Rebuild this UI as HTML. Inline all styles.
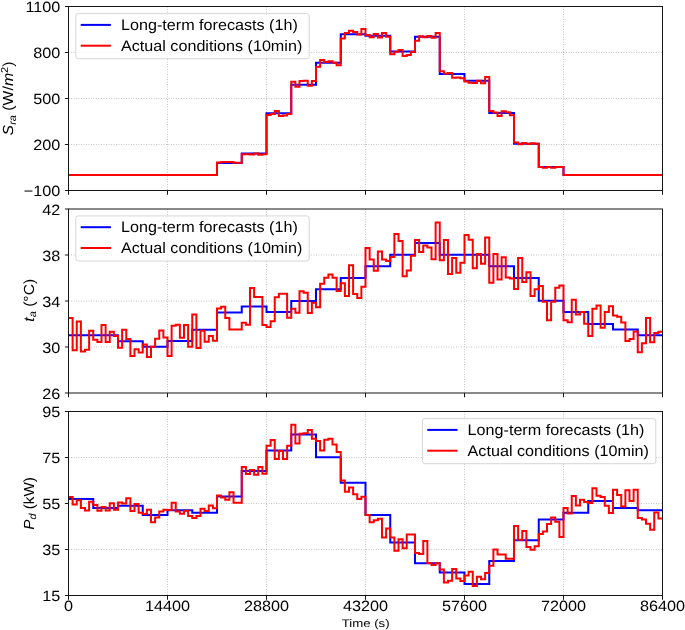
<!DOCTYPE html>
<html><head><meta charset="utf-8"><title>chart</title><style>*{margin:0;padding:0}html,body{width:685px;height:630px;overflow:hidden;background:#fff}
svg{display:block}
text{font-family:"Liberation Sans",sans-serif;fill:#000;text-rendering:geometricPrecision}
.tx{position:absolute;left:0;top:0;will-change:transform}
.tk{font-size:14.9px}.lg{font-size:15.2px}.xl{font-size:11.1px}.yl{font-size:14.6px}
</style></head><body>
<svg width="685" height="630" viewBox="0 0 685 630">
<rect width="685" height="630" fill="#fff"/>
<defs>
<clipPath id="c0"><rect x="68.5" y="6.5" width="594.0" height="184.0"/></clipPath>
<clipPath id="c1"><rect x="68.5" y="209.0" width="594.0" height="184.0"/></clipPath>
<clipPath id="c2"><rect x="68.5" y="411.5" width="594.0" height="184.0"/></clipPath>
</defs>
<path d="M167.5 6.5V190.5M266.5 6.5V190.5M365.5 6.5V190.5M464.5 6.5V190.5M563.5 6.5V190.5M68.5 52.5H662.5M68.5 98.5H662.5M68.5 144.5H662.5" stroke="#b0b0b0" stroke-width="0.8" stroke-dasharray="0.9 1.6" fill="none"/>
<g clip-path="url(#c0)" fill="none" stroke-width="2.0" stroke-linejoin="miter" stroke-linecap="butt">
<path d="M68.5 174.9L93.25 174.9L118 174.9L142.75 174.9L167.5 174.9L192.25 174.9L217 174.9L217 163.1L241.75 163.1L241.75 153.4L266.5 153.4L266.5 113.2L291.25 113.2L291.25 84.7L316 84.7L316 62.8L340.75 62.8L340.75 34.2L365.5 34.2L365.5 35.7L390.25 35.7L390.25 51.5L415 51.5L415 36.8L439.75 36.8L439.75 74L464.5 74L464.5 80.8L489.25 80.8L489.25 112.9L514 112.9L514 143.7L538.75 143.7L538.75 167L563.5 167L563.5 174.9L588.25 174.9L613 174.9L637.75 174.9L662.5 174.9" stroke="#0000ff"/>
<path d="M68.5 174.9L72.62 174.9L76.75 174.9L80.88 174.9L85 174.9L89.12 174.9L93.25 174.9L97.38 174.9L101.5 174.9L105.62 174.9L109.75 174.9L113.88 174.9L118 174.9L122.12 174.9L126.25 174.9L130.38 174.9L134.5 174.9L138.62 174.9L142.75 174.9L146.88 174.9L151 174.9L155.12 174.9L159.25 174.9L163.38 174.9L167.5 174.9L171.62 174.9L175.75 174.9L179.88 174.9L184 174.9L188.12 174.9L192.25 174.9L196.38 174.9L200.5 174.9L204.62 174.9L208.75 174.9L212.88 174.9L217 174.9L217 162.6L221.12 162.6L221.12 161.9L225.25 161.9L229.38 161.9L233.5 161.9L233.5 162.8L237.62 162.8L241.75 162.8L241.75 154.2L245.88 154.2L250 154.2L250 154.4L254.12 154.4L254.12 153.4L258.25 153.4L258.25 154.8L262.38 154.8L262.38 154.2L266.5 154.2L266.5 115L270.62 115L270.62 114.1L274.75 114.1L274.75 110.9L278.88 110.9L278.88 116.1L283 116.1L283 115.6L287.12 115.6L287.12 113.9L291.25 113.9L291.25 81.8L295.38 81.8L295.38 86.8L299.5 86.8L299.5 80.9L303.62 80.9L303.62 80.7L307.75 80.7L307.75 85.7L311.88 85.7L311.88 80.9L316 80.9L316 66.7L320.12 66.7L320.12 59.9L324.25 59.9L324.25 62.1L328.38 62.1L328.38 61.2L332.5 61.2L332.5 62.7L336.62 62.7L336.62 65.3L340.75 65.3L340.75 38.5L344.88 38.5L344.88 32.9L349 32.9L349 30.7L353.12 30.7L353.12 32L357.25 32L357.25 34.4L361.38 34.4L361.38 28.9L365.5 28.9L365.5 35.1L369.62 35.1L369.62 37.3L373.75 37.3L373.75 33.9L377.88 33.9L377.88 37.6L382 37.6L382 33.1L386.12 33.1L386.12 36.8L390.25 36.8L390.25 54.2L394.38 54.2L394.38 51.7L398.5 51.7L398.5 50.1L402.62 50.1L402.62 56L406.75 56L406.75 55L410.88 55L410.88 51.9L415 51.9L415 40.7L419.12 40.7L419.12 36.2L423.25 36.2L423.25 37.2L427.38 37.2L427.38 35.9L431.5 35.9L431.5 37.7L435.62 37.7L435.62 33L439.75 33L439.75 71.3L443.88 71.3L443.88 73.5L448 73.5L448 73L452.12 73L452.12 77.8L456.25 77.8L456.25 77.6L460.38 77.6L460.38 78.3L464.5 78.3L464.5 81.4L468.62 81.4L468.62 82.7L472.75 82.7L472.75 82.9L476.88 82.9L476.88 80.8L481 80.8L481 83.3L485.12 83.3L485.12 77.1L489.25 77.1L489.25 111L493.38 111L493.38 112.6L497.5 112.6L497.5 116L501.62 116L501.62 111.2L505.75 111.2L505.75 112.2L509.88 112.2L509.88 115.2L514 115.2L514 142.4L518.12 142.4L518.12 144.2L522.25 144.2L522.25 142.9L526.38 142.9L526.38 144L530.5 144L530.5 143.2L534.62 143.2L534.62 143.7L538.75 143.7L538.75 166.9L542.88 166.9L542.88 167.7L547 167.7L547 166.9L551.12 166.9L551.12 167.7L555.25 167.7L555.25 166.9L559.38 166.9L563.5 166.9L563.5 174.9L567.62 174.9L571.75 174.9L575.88 174.9L580 174.9L584.12 174.9L588.25 174.9L592.38 174.9L596.5 174.9L600.62 174.9L604.75 174.9L608.88 174.9L613 174.9L617.12 174.9L621.25 174.9L625.38 174.9L629.5 174.9L633.62 174.9L637.75 174.9L641.88 174.9L646 174.9L650.12 174.9L654.25 174.9L658.38 174.9L662.5 174.9" stroke="#ff0000"/>
</g>
<rect x="68.5" y="6.5" width="594.0" height="184.0" fill="none" stroke="#151515" stroke-width="1"/>
<path d="M64.9 6.5H68.5M64.9 52.5H68.5M64.9 98.5H68.5M64.9 144.5H68.5M64.9 190.5H68.5M68.5 190.5V194.8M167.5 190.5V194.8M266.5 190.5V194.8M365.5 190.5V194.8M464.5 190.5V194.8M563.5 190.5V194.8M662.5 190.5V194.8" stroke="#151515" stroke-width="1" fill="none"/>
<path d="M167.5 209V393M266.5 209V393M365.5 209V393M464.5 209V393M563.5 209V393M68.5 255H662.5M68.5 301H662.5M68.5 347H662.5" stroke="#b0b0b0" stroke-width="0.8" stroke-dasharray="0.9 1.6" fill="none"/>
<g clip-path="url(#c1)" fill="none" stroke-width="2.0" stroke-linejoin="miter" stroke-linecap="butt">
<path d="M68.5 335.3L93.25 335.3L118 335.3L118 341.2L142.75 341.2L142.75 346.7L167.5 346.7L167.5 341L192.25 341L192.25 329.7L217 329.7L217 312.4L241.75 312.4L241.75 306.5L266.5 306.5L266.5 312L291.25 312L291.25 300.9L316 300.9L316 289.3L340.75 289.3L340.75 278L365.5 278L365.5 266.3L390.25 266.3L390.25 254.8L415 254.8L415 243L439.75 243L439.75 254.7L464.5 254.7L489.25 254.7L489.25 266.2L514 266.2L514 278L538.75 278L538.75 300.7L563.5 300.7L563.5 312.1L588.25 312.1L588.25 323.9L613 323.9L613 329.6L637.75 329.6L637.75 335.2L662.5 335.2" stroke="#0000ff"/>
<path d="M68.5 317.9L72.62 317.9L72.62 350.2L76.75 350.2L76.75 321.4L80.88 321.4L80.88 351.5L85 351.5L85 349.7L89.12 349.7L89.12 330.7L93.25 330.7L93.25 339.8L97.38 339.8L97.38 342.1L101.5 342.1L101.5 325L105.62 325L105.62 342.1L109.75 342.1L109.75 331.8L113.88 331.8L113.88 336.1L118 336.1L118 347.7L122.12 347.7L122.12 329.7L126.25 329.7L126.25 338.9L130.38 338.9L130.38 355.9L134.5 355.9L134.5 349.2L138.62 349.2L138.62 352.4L142.75 352.4L142.75 344.6L146.88 344.6L146.88 357.1L151 357.1L151 346.7L155.12 346.7L155.12 338.7L159.25 338.7L159.25 330.5L163.38 330.5L163.38 337.6L167.5 337.6L167.5 355.9L171.62 355.9L171.62 325.8L175.75 325.8L175.75 324.8L179.88 324.8L179.88 337.7L184 337.7L184 325L188.12 325L188.12 346.7L192.25 346.7L192.25 314.5L196.38 314.5L196.38 347.9L200.5 347.9L200.5 330.7L204.62 330.7L204.62 341.7L208.75 341.7L208.75 336L212.88 336L212.88 340.7L217 340.7L217 308.6L221.12 308.6L221.12 306.7L225.25 306.7L225.25 318.1L229.38 318.1L229.38 329.5L233.5 329.5L237.62 329.5L241.75 329.5L241.75 322.7L245.88 322.7L245.88 324.8L250 324.8L250 288.1L254.12 288.1L254.12 297.1L258.25 297.1L262.38 297.1L262.38 325L266.5 325L266.5 326.9L270.62 326.9L270.62 321.3L274.75 321.3L274.75 297.2L278.88 297.2L278.88 293.7L283 293.7L287.12 293.7L287.12 317.8L291.25 317.8L291.25 308.7L295.38 308.7L295.38 312.8L299.5 312.8L299.5 291.3L303.62 291.3L303.62 292.8L307.75 292.8L307.75 313.1L311.88 313.1L311.88 302.7L316 302.7L316 307.2L320.12 307.2L320.12 283.7L324.25 283.7L324.25 277.8L328.38 277.8L328.38 274.4L332.5 274.4L332.5 277.8L336.62 277.8L336.62 291.1L340.75 291.1L340.75 283.3L344.88 283.3L344.88 296.1L349 296.1L349 265.2L353.12 265.2L353.12 293.9L357.25 293.9L357.25 298.1L361.38 298.1L361.38 286.7L365.5 286.7L365.5 248L369.62 248L369.62 259.4L373.75 259.4L373.75 270.8L377.88 270.8L377.88 251.4L382 251.4L382 259.4L386.12 259.4L386.12 261.1L390.25 261.1L390.25 257L394.38 257L394.38 233.9L398.5 233.9L398.5 240.9L402.62 240.9L402.62 276.3L406.75 276.3L406.75 270.6L410.88 270.6L410.88 255.7L415 255.7L415 240L419.12 240L419.12 252L423.25 252L423.25 245.6L427.38 245.6L427.38 247.6L431.5 247.6L431.5 259.2L435.62 259.2L435.62 222.6L439.75 222.6L439.75 260.3L443.88 260.3L443.88 240L448 240L448 273.9L452.12 273.9L452.12 258.1L456.25 258.1L456.25 272.8L460.38 272.8L460.38 262.8L464.5 262.8L464.5 235L468.62 235L468.62 239.7L472.75 239.7L472.75 268.3L476.88 268.3L476.88 253.9L481 253.9L481 263.7L485.12 263.7L485.12 237.6L489.25 237.6L489.25 282.8L493.38 282.8L493.38 253.9L497.5 253.9L497.5 279.4L501.62 279.4L501.62 257.2L505.75 257.2L505.75 277.6L509.88 277.6L509.88 278.6L514 278.6L514 288.9L518.12 288.9L518.12 258.1L522.25 258.1L522.25 282L526.38 282L526.38 272.2L530.5 272.2L530.5 296.1L534.62 296.1L534.62 289.2L538.75 289.2L538.75 285.9L542.88 285.9L542.88 301.7L547 301.7L547 320.3L551.12 320.3L551.12 301.7L555.25 301.7L555.25 287.8L559.38 287.8L559.38 285.6L563.5 285.6L563.5 320.3L567.62 320.3L567.62 322.2L571.75 322.2L571.75 299.8L575.88 299.8L575.88 314.4L580 314.4L580 312L584.12 312L584.12 323.7L588.25 323.7L588.25 336.1L592.38 336.1L592.38 308.7L596.5 308.7L596.5 305.6L600.62 305.6L600.62 327.8L604.75 327.8L604.75 312L608.88 312L608.88 306.3L613 306.3L613 315.6L617.12 315.6L617.12 316.7L621.25 316.7L621.25 322.6L625.38 322.6L625.38 340.9L629.5 340.9L629.5 338.9L633.62 338.9L633.62 331.4L637.75 331.4L637.75 352.2L641.88 352.2L641.88 343.3L646 343.3L646 318.1L650.12 318.1L650.12 342.2L654.25 342.2L654.25 333L658.38 333L658.38 331.7L662.5 331.7" stroke="#ff0000"/>
</g>
<rect x="68.5" y="209.0" width="594.0" height="184.0" fill="none" stroke="#151515" stroke-width="1"/>
<path d="M64.9 209H68.5M64.9 255H68.5M64.9 301H68.5M64.9 347H68.5M64.9 393H68.5M68.5 393V397.3M167.5 393V397.3M266.5 393V397.3M365.5 393V397.3M464.5 393V397.3M563.5 393V397.3M662.5 393V397.3" stroke="#151515" stroke-width="1" fill="none"/>
<path d="M167.5 411.5V595.5M266.5 411.5V595.5M365.5 411.5V595.5M464.5 411.5V595.5M563.5 411.5V595.5M68.5 457.5H662.5M68.5 503.5H662.5M68.5 549.5H662.5" stroke="#b0b0b0" stroke-width="0.8" stroke-dasharray="0.9 1.6" fill="none"/>
<g clip-path="url(#c2)" fill="none" stroke-width="2.0" stroke-linejoin="miter" stroke-linecap="butt">
<path d="M68.5 499L93.25 499L93.25 508L118 508L118 505.8L142.75 505.8L142.75 515L167.5 515L167.5 510.3L192.25 510.3L192.25 512.7L217 512.7L217 496.6L241.75 496.6L241.75 471.1L266.5 471.1L266.5 450.5L291.25 450.5L291.25 434.4L316 434.4L316 457.3L340.75 457.3L340.75 482.7L365.5 482.7L365.5 515L390.25 515L390.25 542.6L415 542.6L415 563.2L439.75 563.2L439.75 572.4L464.5 572.4L464.5 584L489.25 584L489.25 560.9L514 560.9L514 540.2L538.75 540.2L538.75 519.6L563.5 519.6L563.5 512.7L588.25 512.7L588.25 501L613 501L613 508L637.75 508L637.75 510.2L662.5 510.2" stroke="#0000ff"/>
<path d="M68.5 497L72.62 497L72.62 504.4L76.75 504.4L76.75 500.3L80.88 500.3L80.88 508L85 508L85 510.4L89.12 510.4L89.12 501.7L93.25 501.7L93.25 504.9L97.38 504.9L97.38 510.7L101.5 510.7L101.5 507L105.62 507L105.62 510.4L109.75 510.4L109.75 503.3L113.88 503.3L113.88 509.8L118 509.8L118 502.6L122.12 502.6L122.12 503.6L126.25 503.6L126.25 498.3L130.38 498.3L130.38 511L134.5 511L134.5 504L138.62 504L138.62 512.8L142.75 512.8L142.75 514L146.88 514L146.88 509.7L151 509.7L151 522.2L155.12 522.2L155.12 517.5L159.25 517.5L159.25 511.6L163.38 511.6L163.38 509.7L167.5 509.7L167.5 510.1L171.62 510.1L171.62 502.7L175.75 502.7L175.75 511.5L179.88 511.5L179.88 513.7L184 513.7L184 510.7L188.12 510.7L188.12 516L192.25 516L192.25 518L196.38 518L196.38 516L200.5 516L200.5 508.8L204.62 508.8L204.62 510.9L208.75 510.9L208.75 505.5L212.88 505.5L212.88 508.2L217 508.2L217 495.5L221.12 495.5L221.12 497.4L225.25 497.4L225.25 499.8L229.38 499.8L229.38 492.2L233.5 492.2L233.5 502.8L237.62 502.8L241.75 502.8L241.75 466.9L245.88 466.9L245.88 474L250 474L250 470L254.12 470L254.12 474.8L258.25 474.8L258.25 467.1L262.38 467.1L262.38 473.7L266.5 473.7L266.5 445.7L270.62 445.7L270.62 440L274.75 440L274.75 459L278.88 459L278.88 451L283 451L283 458.9L287.12 458.9L287.12 445.7L291.25 445.7L291.25 424.8L295.38 424.8L295.38 443.6L299.5 443.6L299.5 433.8L303.62 433.8L303.62 433.3L307.75 433.3L307.75 430L311.88 430L311.88 438.8L316 438.8L316 440.9L320.12 440.9L320.12 450.6L324.25 450.6L324.25 439.8L328.38 439.8L328.38 438.7L332.5 438.7L332.5 444.4L336.62 444.4L336.62 452L340.75 452L340.75 480.6L344.88 480.6L344.88 491.7L349 491.7L349 487.6L353.12 487.6L353.12 494.2L357.25 494.2L357.25 498.9L361.38 498.9L361.38 496.7L365.5 496.7L365.5 515L369.62 515L369.62 522.2L373.75 522.2L373.75 520.2L377.88 520.2L377.88 518.7L382 518.7L382 537.6L386.12 537.6L386.12 528.5L390.25 528.5L390.25 537.4L394.38 537.4L394.38 550.7L398.5 550.7L398.5 539.3L402.62 539.3L402.62 548.3L406.75 548.3L406.75 534.5L410.88 534.5L415 534.5L415 552.9L419.12 552.9L419.12 553.9L423.25 553.9L423.25 540.9L427.38 540.9L427.38 562.9L431.5 562.9L431.5 565L435.62 565L435.62 563.3L439.75 563.3L439.75 569.5L443.88 569.5L443.88 582.4L448 582.4L448 580.8L452.12 580.8L452.12 568.9L456.25 568.9L456.25 578.5L460.38 578.5L460.38 581L464.5 581L464.5 575.4L468.62 575.4L468.62 571.8L472.75 571.8L472.75 585.9L476.88 585.9L476.88 576.7L481 576.7L481 579.2L485.12 579.2L485.12 572.9L489.25 572.9L489.25 565.7L493.38 565.7L493.38 549.4L497.5 549.4L497.5 554.6L501.62 554.6L505.75 554.6L505.75 558.7L509.88 558.7L514 558.7L514 526L518.12 526L518.12 539.7L522.25 539.7L522.25 530.9L526.38 530.9L526.38 546.9L530.5 546.9L530.5 549.7L534.62 549.7L534.62 546.3L538.75 546.3L538.75 534L542.88 534L542.88 531.5L547 531.5L547 523.9L551.12 523.9L551.12 517.4L555.25 517.4L555.25 521.7L559.38 521.7L559.38 536.9L563.5 536.9L563.5 507.9L567.62 507.9L567.62 513.4L571.75 513.4L571.75 496L575.88 496L575.88 505.5L580 505.5L580 499.8L584.12 499.8L584.12 501.9L588.25 501.9L588.25 503.1L592.38 503.1L592.38 488.3L596.5 488.3L596.5 495.8L600.62 495.8L600.62 497.1L604.75 497.1L604.75 505.7L608.88 505.7L608.88 512.9L613 512.9L613 489.8L617.12 489.8L617.12 495L621.25 495L621.25 506.6L625.38 506.6L625.38 490.2L629.5 490.2L629.5 500.9L633.62 500.9L633.62 489.8L637.75 489.8L637.75 518.1L641.88 518.1L641.88 519.5L646 519.5L646 523.8L650.12 523.8L650.12 529.7L654.25 529.7L654.25 512.4L658.38 512.4L658.38 518.6L662.5 518.6" stroke="#ff0000"/>
</g>
<rect x="68.5" y="411.5" width="594.0" height="184.0" fill="none" stroke="#151515" stroke-width="1"/>
<path d="M64.9 411.5H68.5M64.9 457.5H68.5M64.9 503.5H68.5M64.9 549.5H68.5M64.9 595.5H68.5M68.5 595.5V599.8M167.5 595.5V599.8M266.5 595.5V599.8M365.5 595.5V599.8M464.5 595.5V599.8M563.5 595.5V599.8M662.5 595.5V599.8" stroke="#151515" stroke-width="1" fill="none"/>
<rect x="75.8" y="13.6" width="233.4" height="45.1" rx="2.5" fill="#fff" fill-opacity="0.8" stroke="#cccccc" stroke-opacity="0.8" stroke-width="1"/>
<path d="M80.7 24.9H110.9" stroke="#0000ff" stroke-width="2.0"/>
<path d="M80.7 45.7H110.9" stroke="#ff0000" stroke-width="2.0"/>
<rect x="75.8" y="215.9" width="233.4" height="45.1" rx="2.5" fill="#fff" fill-opacity="0.8" stroke="#cccccc" stroke-opacity="0.8" stroke-width="1"/>
<path d="M80.7 227.2H110.9" stroke="#0000ff" stroke-width="2.0"/>
<path d="M80.7 248H110.9" stroke="#ff0000" stroke-width="2.0"/>
<rect x="422.4" y="418.6" width="233.4" height="45.1" rx="2.5" fill="#fff" fill-opacity="0.8" stroke="#cccccc" stroke-opacity="0.8" stroke-width="1"/>
<path d="M427.3 429.9H457.5" stroke="#0000ff" stroke-width="2.0"/>
<path d="M427.3 450.7H457.5" stroke="#ff0000" stroke-width="2.0"/>
</svg>
<svg class="tx" width="685" height="630" viewBox="0 0 685 630">
<text transform="translate(60.4 12.2) scale(1.089 1)" text-anchor="end" class="tk">1100</text>
<text transform="translate(60.4 58.2) scale(1.089 1)" text-anchor="end" class="tk">800</text>
<text transform="translate(60.4 104.2) scale(1.089 1)" text-anchor="end" class="tk">500</text>
<text transform="translate(60.4 150.2) scale(1.089 1)" text-anchor="end" class="tk">200</text>
<text transform="translate(60.4 196.2) scale(1.089 1)" text-anchor="end" class="tk">−100</text>
<text transform="translate(60.4 214.7) scale(1.089 1)" text-anchor="end" class="tk">42</text>
<text transform="translate(60.4 260.7) scale(1.089 1)" text-anchor="end" class="tk">38</text>
<text transform="translate(60.4 306.7) scale(1.089 1)" text-anchor="end" class="tk">34</text>
<text transform="translate(60.4 352.7) scale(1.089 1)" text-anchor="end" class="tk">30</text>
<text transform="translate(60.4 398.7) scale(1.089 1)" text-anchor="end" class="tk">26</text>
<text transform="translate(60.4 417.2) scale(1.089 1)" text-anchor="end" class="tk">95</text>
<text transform="translate(60.4 463.2) scale(1.089 1)" text-anchor="end" class="tk">75</text>
<text transform="translate(60.4 509.2) scale(1.089 1)" text-anchor="end" class="tk">55</text>
<text transform="translate(60.4 555.2) scale(1.089 1)" text-anchor="end" class="tk">35</text>
<text transform="translate(60.4 601.2) scale(1.089 1)" text-anchor="end" class="tk">15</text>
<text transform="translate(68.5 610.9) scale(1.089 1)" text-anchor="middle" class="tk">0</text>
<text transform="translate(167.5 610.9) scale(1.089 1)" text-anchor="middle" class="tk">14400</text>
<text transform="translate(266.5 610.9) scale(1.089 1)" text-anchor="middle" class="tk">28800</text>
<text transform="translate(365.5 610.9) scale(1.089 1)" text-anchor="middle" class="tk">43200</text>
<text transform="translate(464.5 610.9) scale(1.089 1)" text-anchor="middle" class="tk">57600</text>
<text transform="translate(563.5 610.9) scale(1.089 1)" text-anchor="middle" class="tk">72000</text>
<text transform="translate(662.5 610.9) scale(1.089 1)" text-anchor="middle" class="tk">86400</text>
<text transform="translate(365.6 627.0) scale(1.19 1)" text-anchor="middle" class="xl">Time (s)</text>
<text transform="translate(13.3 98.45) rotate(-90) scale(1.083 1)" text-anchor="middle" class="yl"><tspan font-style="italic">S</tspan><tspan font-style="italic" font-size="10.2" dy="2.2">ra</tspan><tspan dy="-2.2"> (W/</tspan><tspan font-style="italic">m</tspan><tspan font-size="10.2" dy="-5.3">2</tspan><tspan dy="5.3">)</tspan></text>
<text transform="translate(34.0 300.25) rotate(-90) scale(1.074 1)" text-anchor="middle" class="yl"><tspan font-style="italic">t</tspan><tspan font-style="italic" font-size="10.2" dy="2.2">a</tspan><tspan dy="-2.2"> (°C)</tspan></text>
<text transform="translate(34.0 503.4) rotate(-90) scale(1.045 1)" text-anchor="middle" class="yl"><tspan font-style="italic">P</tspan><tspan font-style="italic" font-size="10.2" dy="2.2">d</tspan><tspan dy="-2.2"> (kW)</tspan></text>
<text transform="translate(121 30) scale(1.063 1)" class="lg">Long-term forecasts (1h)</text>
<text transform="translate(121 50.6) scale(1.063 1)" class="lg">Actual conditions (10min)</text>
<text transform="translate(121 232.3) scale(1.063 1)" class="lg">Long-term forecasts (1h)</text>
<text transform="translate(121 252.9) scale(1.063 1)" class="lg">Actual conditions (10min)</text>
<text transform="translate(467.6 435) scale(1.063 1)" class="lg">Long-term forecasts (1h)</text>
<text transform="translate(467.6 455.6) scale(1.063 1)" class="lg">Actual conditions (10min)</text>
</svg>
</body></html>
